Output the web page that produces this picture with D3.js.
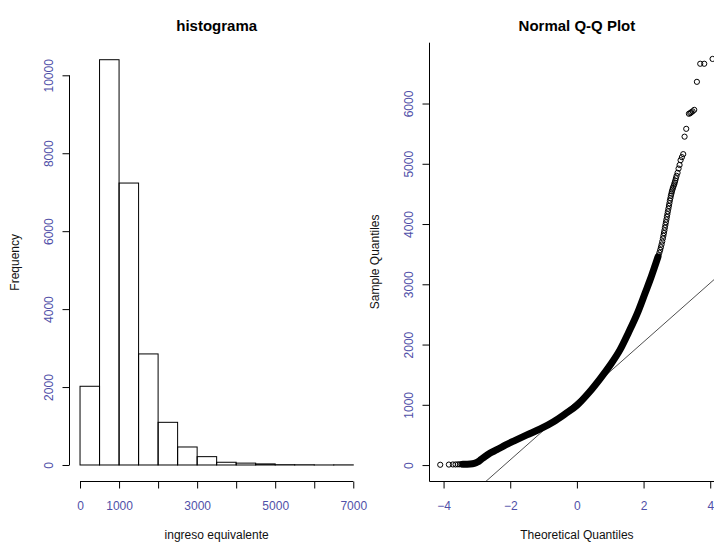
<!DOCTYPE html>
<html>
<head>
<meta charset="utf-8">
<script src="https://cdn.jsdelivr.net/npm/d3@7"></script>
<style>
  html, body { margin: 0; padding: 0; background: #fff; }
  svg { display: block; font-family: Arial, "Liberation Sans", Helvetica, sans-serif; }
</style>
</head>
<body>
<svg id="chart" width="714" height="542"></svg>
<script>
// ---- histogram of "ingreso equivalente" (bins of width 500) ----
const binEdges  = [0, 500, 1000, 1500, 2000, 2500, 3000, 3500, 4000, 4500, 5000, 5500, 6000, 6500, 7000];
const binCounts = [2020, 10400, 7235, 2850, 1095, 462, 214, 70, 48, 28, 8, 6, 1, 3];
const histXTicks  = [0, 1000, 2000, 3000, 4000, 5000, 6000, 7000];
const histXLabels = ["0", "1000", "", "3000", "", "5000", "", "7000"];
const histYTicks  = [0, 2000, 4000, 6000, 8000, 10000];

// ---- normal Q-Q plot: (theoretical quantile, sample quantile) ----
// isolated points in the lower tail
const qqLowTheo   = [-4.10, -3.84, -3.72, -3.64, -3.57, -3.51, -3.46];
const qqLowSample = [5, 8, 10, 10, 12, 12, 14];
// dense body, where the points merge into a solid band
const qqBodyTheo   = [-3.42, -3.20, -3.08, -2.98, -2.88, -2.76, -2.60, -2.40, -2.15, -1.85, -1.50, -1.10,
                      -0.70, -0.35, 0.00, 0.35, 0.70, 1.00, 1.30, 1.55, 1.80, 2.05, 2.20, 2.35, 2.43];
const qqBodySample = [14, 18, 28, 50, 90, 140, 200, 255, 330, 410, 500, 600,
                      720, 850, 990, 1195, 1435, 1660, 1920, 2200, 2500, 2860, 3080, 3320, 3450];
// upper tail, individual overlapping points
const qqHighTheo   = [2.45, 2.475, 2.50, 2.52, 2.54, 2.56, 2.58, 2.595, 2.61, 2.625, 2.64, 2.655, 2.67, 2.685,
                      2.70, 2.715, 2.73, 2.745, 2.76, 2.775, 2.79, 2.805, 2.82, 2.835, 2.85, 2.865,
                      2.88, 2.90, 2.92, 2.935, 2.95, 2.97, 2.99, 3.02, 3.05, 3.08, 3.11, 3.15, 3.19, 3.23, 3.28,
                      3.36, 3.40, 3.43, 3.47, 3.52, 3.60, 3.70, 3.82, 4.07];
const qqHighSample = [3480, 3525, 3570, 3615, 3660, 3710, 3760, 3805, 3850, 3895, 3940, 3985, 4030, 4075,
                      4120, 4165, 4210, 4255, 4300, 4345, 4390, 4430, 4470, 4505, 4540, 4570,
                      4600, 4630, 4660, 4690, 4720, 4760, 4800, 4850, 4920, 4980, 5060, 5110, 5160, 5450, 5580,
                      5830, 5840, 5855, 5870, 5895, 6360, 6660, 6660, 6740];
const qqQuartiles = [735, 1395];   // sample Q1 and Q3, define the reference line
const qqXTicks = [-4, -2, 0, 2, 4];
const qqYTicks = [0, 1000, 2000, 3000, 4000, 5000, 6000];

const tickColor = "#5050a8";
const svg = d3.select("#chart");

// R-style axis range: data range padded by 4% on each side
function pad4(lo, hi) { const d = (hi - lo) * 0.04; return [lo - d, hi + d]; }

function styleYTicks(g) {
  g.select(".domain").remove();
  g.selectAll(".tick line").attr("stroke", "#000");
  g.selectAll(".tick text")
    .attr("x", 0).attr("y", -17).attr("dy", 0)
    .attr("transform", "rotate(-90)")
    .attr("text-anchor", "middle")
    .attr("fill", tickColor).style("font-size", "12px");
}
function styleXTicks(g) {
  g.select(".domain").remove();
  g.selectAll(".tick line").attr("stroke", "#000");
  g.selectAll(".tick text")
    .attr("y", 28.5).attr("dy", 0)
    .attr("fill", tickColor).style("font-size", "12px");
}

// ================= left panel: histogram =================
{
  const xH = d3.scaleLinear().domain(pad4(binEdges[0], binEdges[binEdges.length - 1])).range([69.1, 364.2]);
  const yH = d3.scaleLinear().domain(pad4(0, d3.max(binCounts))).range([481.2, 43.5]);

  const bins = binCounts.map((c, i) => ({ x0: binEdges[i], x1: binEdges[i + 1], n: c }));
  svg.append("g").selectAll("rect").data(bins).join("rect")
    .attr("x", d => xH(d.x0)).attr("width", d => xH(d.x1) - xH(d.x0))
    .attr("y", d => yH(d.n)).attr("height", d => yH(0) - yH(d.n))
    .attr("fill", "none").attr("stroke", "#000").attr("stroke-width", 1);

  // x axis (below, detached from the bars)
  const xAxisY = 481.5;
  svg.append("g").attr("transform", `translate(0,${xAxisY})`)
    .call(d3.axisBottom(xH).tickValues(histXTicks).tickSize(7)
      .tickFormat((d, i) => histXLabels[i]))
    .call(styleXTicks);
  svg.append("line")
    .attr("x1", xH(histXTicks[0])).attr("x2", xH(histXTicks[histXTicks.length - 1]))
    .attr("y1", xAxisY).attr("y2", xAxisY).attr("stroke", "#000");

  // y axis
  const yAxisX = 69.5;
  svg.append("g").attr("transform", `translate(${yAxisX},0)`)
    .call(d3.axisLeft(yH).tickValues(histYTicks).tickSize(7).tickFormat(d3.format("d")))
    .call(styleYTicks);
  svg.append("line")
    .attr("x1", yAxisX).attr("x2", yAxisX)
    .attr("y1", yH(histYTicks[0])).attr("y2", yH(histYTicks[histYTicks.length - 1]))
    .attr("stroke", "#000");

  const cx = (xH.range()[0] + xH.range()[1]) / 2;
  const cy = (yH.range()[0] + yH.range()[1]) / 2;
  svg.append("text").attr("x", cx).attr("y", 30.5).attr("text-anchor", "middle")
    .style("font-size", "15px").style("font-weight", "bold").text("histograma");
  svg.append("text").attr("x", cx).attr("y", 539).attr("text-anchor", "middle")
    .style("font-size", "12px").attr("fill", "#111").text("ingreso equivalente");
  svg.append("text").attr("transform", `translate(19,${cy}) rotate(-90)`).attr("text-anchor", "middle")
    .style("font-size", "12px").attr("fill", "#111").text("Frequency");
}

// ================= right panel: normal Q-Q plot =================
{
  const allTheo = qqLowTheo.concat(qqBodyTheo, qqHighTheo);
  const allSample = qqLowSample.concat(qqBodySample, qqHighSample);
  const tExt = d3.extent(allTheo);
  const tAbs = Math.max(-tExt[0], tExt[1]);
  const xQ = d3.scaleLinear().domain(pad4(-tAbs, tAbs)).range([429.3, 724.5]);
  const yQ = d3.scaleLinear().domain(pad4(d3.min(allSample), d3.max(allSample))).range([481, 42.7]);

  svg.append("clipPath").attr("id", "qqclip").append("rect")
    .attr("x", xQ.range()[0]).attr("y", yQ.range()[1])
    .attr("width", xQ.range()[1] - xQ.range()[0]).attr("height", yQ.range()[0] - yQ.range()[1]);

  const plot = svg.append("g").attr("clip-path", "url(#qqclip)");

  // reference line through the quartiles
  const zq = 0.6744898;
  const slope = (qqQuartiles[1] - qqQuartiles[0]) / (2 * zq);
  const inter = (qqQuartiles[0] + qqQuartiles[1]) / 2;
  const [t0, t1] = xQ.domain();
  plot.append("line")
    .attr("x1", xQ(t0)).attr("y1", yQ(inter + slope * t0))
    .attr("x2", xQ(t1)).attr("y2", yQ(inter + slope * t1))
    .attr("stroke", "#222").attr("stroke-width", 0.8);

  // dense body of points
  const body = qqBodyTheo.map((t, i) => [t, qqBodySample[i]]);
  plot.append("path").datum(body)
    .attr("d", d3.line().x(d => xQ(d[0])).y(d => yQ(d[1])).curve(d3.curveMonotoneX))
    .attr("fill", "none").attr("stroke", "#000").attr("stroke-width", 7)
    .attr("stroke-linecap", "round").attr("stroke-linejoin", "round");

  // individual points in both tails
  const tails = qqLowTheo.map((t, i) => [t, qqLowSample[i]])
    .concat(qqHighTheo.map((t, i) => [t, qqHighSample[i]]));
  plot.append("g").selectAll("circle").data(tails).join("circle")
    .attr("cx", d => xQ(d[0])).attr("cy", d => yQ(d[1])).attr("r", 2.6)
    .attr("fill", "none").attr("stroke", "#000").attr("stroke-width", 1);

  // axes: L-shaped frame plus ticks
  const axY = 481.5, axX = 429.5;
  svg.append("g").attr("transform", `translate(0,${axY})`)
    .call(d3.axisBottom(xQ).tickValues(qqXTicks).tickSize(7).tickFormat(d3.format("d")))
    .call(styleXTicks);
  svg.append("g").attr("transform", `translate(${axX},0)`)
    .call(d3.axisLeft(yQ).tickValues(qqYTicks).tickSize(7).tickFormat(d3.format("d")))
    .call(styleYTicks);
  svg.append("path")
    .attr("d", `M${axX},${yQ.range()[1]}V${axY}H${xQ.range()[1]}`)
    .attr("fill", "none").attr("stroke", "#000");

  const cx = (xQ.range()[0] + xQ.range()[1]) / 2;
  const cy = (yQ.range()[0] + yQ.range()[1]) / 2;
  svg.append("text").attr("x", cx).attr("y", 30.5).attr("text-anchor", "middle")
    .style("font-size", "15px").style("font-weight", "bold").text("Normal Q-Q Plot");
  svg.append("text").attr("x", cx).attr("y", 539).attr("text-anchor", "middle")
    .style("font-size", "12px").attr("fill", "#111").text("Theoretical Quantiles");
  svg.append("text").attr("transform", `translate(379,${cy}) rotate(-90)`).attr("text-anchor", "middle")
    .style("font-size", "12px").attr("fill", "#111").text("Sample Quantiles");
}
</script>
</body>
</html>
